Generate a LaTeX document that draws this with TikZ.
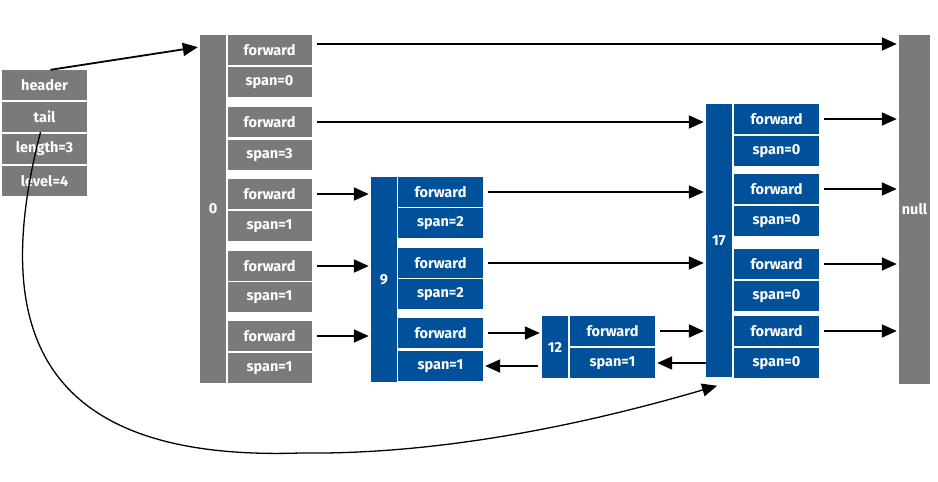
\documentclass[tikz,border=0pt]{standalone}
\usepackage{fontspec}
\setmainfont{Fira Sans}
\usetikzlibrary{arrows.meta}
\definecolor{boxgray}{HTML}{7A7A7A}
\definecolor{boxblue}{HTML}{01519A}

\begin{document}
\begin{tikzpicture}[x=1pt, y=-1pt,
  every node/.style={text=white, font=\fontsize{14.5}{16}\selectfont\bfseries, inner sep=0pt},
  gcell/.style={fill=boxgray, minimum width=84pt, minimum height=30pt},
  bcell/.style={fill=boxblue, minimum width=85pt, minimum height=30pt},
  gbar/.style={fill=boxgray, minimum width=26pt},
  bbar/.style={fill=boxblue, minimum width=26pt},
  ptr/.style={-{Triangle[length=15pt,width=13pt]}, line width=1.8pt, black, shorten <=5pt, shorten >=2pt}]

\useasboundingbox (0,0) rectangle (938,482);

% zskiplist
\node[gcell, minimum width=85pt] (hdr) at (44.5,85) {header};
\node[gcell, minimum width=85pt] (tl) at (44.5,117) {tail};
\node[gcell, minimum width=85pt] (len) at (44.5,149) {length=3};
\node[gcell, minimum width=85pt] (lvl) at (44.5,181) {level=4};

% header node
\node[gbar, minimum height=348pt] (b0) at (213,209) {0};
\node[gcell] (f0a) at (269.5,50) {forward};
\node[gcell] (s0a) at (269.5,82) {span=0};
\node[gcell] (f0b) at (269.5,122) {forward};
\node[gcell] (s0b) at (269.5,155) {span=3};
\node[gcell] (f0c) at (269.5,194) {forward};
\node[gcell] (s0c) at (269.5,226) {span=1};
\node[gcell] (f0d) at (269.5,266) {forward};
\node[gcell] (s0d) at (269.5,297) {span=1};
\node[gcell] (f0e) at (269.5,336) {forward};
\node[gcell] (s0e) at (269.5,368) {span=1};

% node 9
\node[bbar, minimum height=205pt] (b9) at (384,279.5) {9};
\node[bcell] (f9a) at (440.5,192) {forward};
\node[bcell] (s9a) at (440.5,223) {span=2};
\node[bcell] (f9b) at (440.5,263) {forward};
\node[bcell] (s9b) at (440.5,294) {span=2};
\node[bcell] (f9c) at (440.5,333) {forward};
\node[bcell] (s9c) at (440.5,366) {span=1};

% node 12
\node[bbar, minimum height=62pt] (b12) at (555,347) {12};
\node[bcell] (f12) at (612.5,331) {forward};
\node[bcell] (s12) at (612.5,363) {span=1};

% node 17
\node[bbar, minimum height=273pt] (b17) at (719,240.5) {17};
\node[bcell] (f17a) at (776.5,119) {forward};
\node[bcell] (s17a) at (776.5,151) {span=0};
\node[bcell] (f17b) at (776.5,189) {forward};
\node[bcell] (s17b) at (776.5,221) {span=0};
\node[bcell] (f17c) at (776.5,264) {forward};
\node[bcell] (s17c) at (776.5,296) {span=0};
\node[bcell] (f17d) at (776.5,331) {forward};
\node[bcell] (s17d) at (776.5,363) {span=0};

% null
\node[gbar, minimum width=31pt, minimum height=349pt] (nul) at (914.5,209.5) {null};

% forward pointers
\draw[ptr] ([yshift=6pt]f0a.east) -- ([yshift=6pt]f0a.east -| nul.west);
\draw[ptr] (f0b.east) -- (f0b.east -| b17.west);
\draw[ptr] (f0c.east) -- (f0c.east -| b9.west);
\draw[ptr] (f0d.east) -- (f0d.east -| b9.west);
\draw[ptr] (f0e.east) -- (f0e.east -| b9.west);
\draw[ptr] (f9a.east) -- (f9a.east -| b17.west);
\draw[ptr] (f9b.east) -- (f9b.east -| b17.west);
\draw[ptr] (f9c.east) -- (f9c.east -| b12.west);
\draw[ptr] (f12.east) -- (f12.east -| b17.west);
\draw[ptr] (f17a.east) -- (f17a.east -| nul.west);
\draw[ptr] (f17b.east) -- (f17b.east -| nul.west);
\draw[ptr] (f17c.east) -- (f17c.east -| nul.west);
\draw[ptr] (f17d.east) -- (f17d.east -| nul.west);

% backward pointers
\draw[ptr, shorten <=4pt] (b12.west |- s9c.east) -- (s9c.east);
\draw[ptr, shorten <=0pt] (b17.west |- s12.east) -- (s12.east);

% header and tail
\draw[ptr, shorten <=0pt] ([xshift=6pt]hdr.north) -- ([yshift=-12pt]b0.north west);
\draw[ptr, shorten <=0pt, line width=1.3pt] ([xshift=-4pt]tl.south) .. controls (-8,320) and (30,462) .. (300,453) .. controls (450,455) and (600,420) .. ([yshift=-8pt]b17.south);

\end{tikzpicture}
\end{document}
